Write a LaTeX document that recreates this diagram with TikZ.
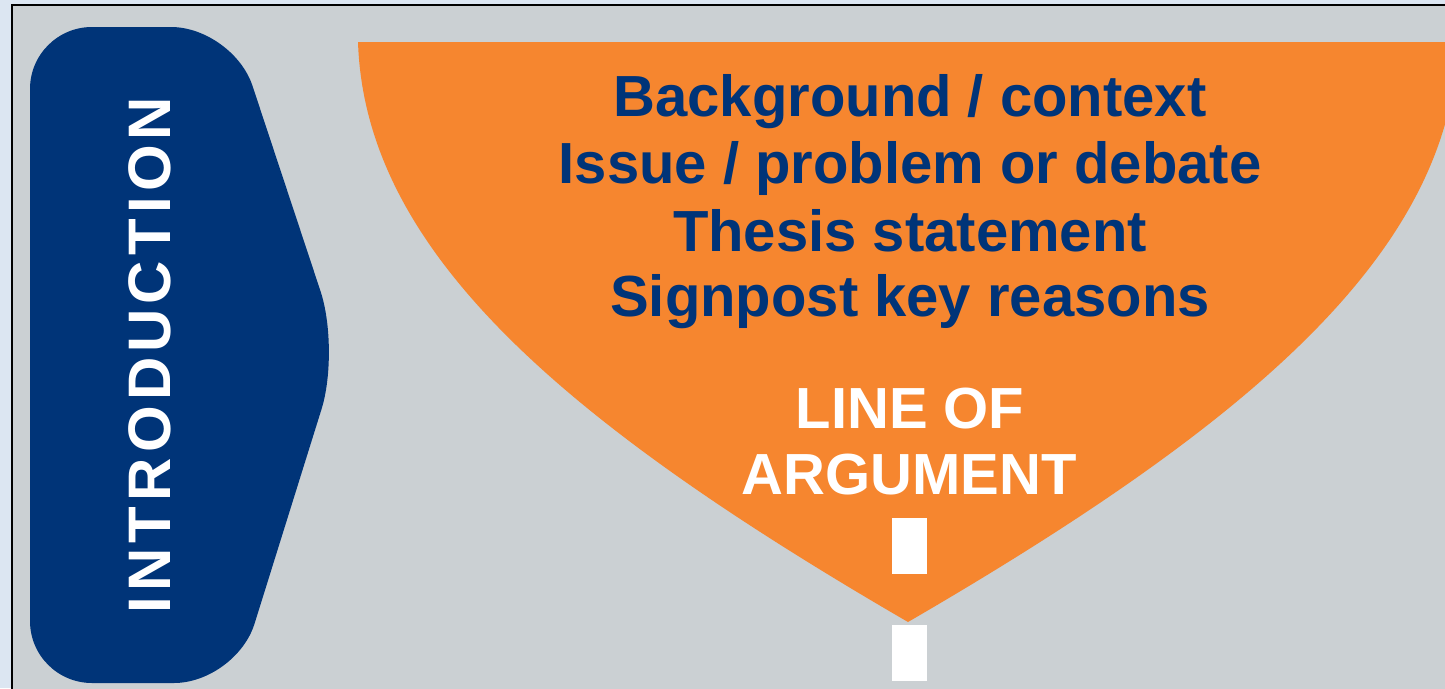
\documentclass[tikz,border=0pt]{standalone}
\usepackage{fontspec}
\setmainfont{Liberation Sans}
\usepackage{xcolor}

\definecolor{navy}{HTML}{003478}
\definecolor{funnel}{HTML}{F6862F}
\definecolor{panel}{HTML}{CBD0D3}
\definecolor{outer}{HTML}{DCE6F2}
\newcommand{\pointfont}{\fontsize{58}{66}\selectfont\bfseries}
\newcommand{\tabfont}{\fontsize{60}{66}\selectfont\bfseries\addfontfeature{LetterSpace=8.6}}

\begin{document}
\begin{tikzpicture}[x=1pt,y=-1pt]
	\useasboundingbox (0,0) rectangle (1445,688);
	\fill[outer] (0,0) rectangle (1445,688);
	\filldraw[fill=panel,draw=black,line width=2pt] (12,5) rectangle (1470,700);
\par
% tab on the left
	\fill[navy,rounded corners=62pt] (30,27) -- (233,27) -- (340,350) -- (236,683) -- (30,683) -- cycle;
	\node[rotate=90,text=white,font=\tabfont,inner sep=0pt] (intro) at (150,355) {INTRODUCTION};
\par
% funnel
	\fill[funnel] (358,42) -- (1458,42) .. controls (1451,250) and (1256,420) .. (908,622)
		.. controls (560,420) and (365,250) .. (358,42) -- cycle;
\par
\tikzstyle{point}=[text=navy,font=\pointfont,anchor=base,inner sep=0pt]
\tikzstyle{arg}=[point,text=white]
	\node[point] (background) at (910,116) {Background / context};
	\node[point] (issue) at (910,183) {Issue / problem or debate};
	\node[point] (thesis) at (910,251) {Thesis statement};
	\node[point] (signpost) at (910,316) {Signpost key reasons};
	\node[arg] (lineof) at (910,428) {LINE OF};
	\node[arg] (argument) at (909,494) {ARGUMENT};
\par
% dashes of the line of argument
	\fill[white] (892,518) rectangle (927,574);
	\fill[white] (892,625) rectangle (927,681);
\end{tikzpicture}
\end{document}
